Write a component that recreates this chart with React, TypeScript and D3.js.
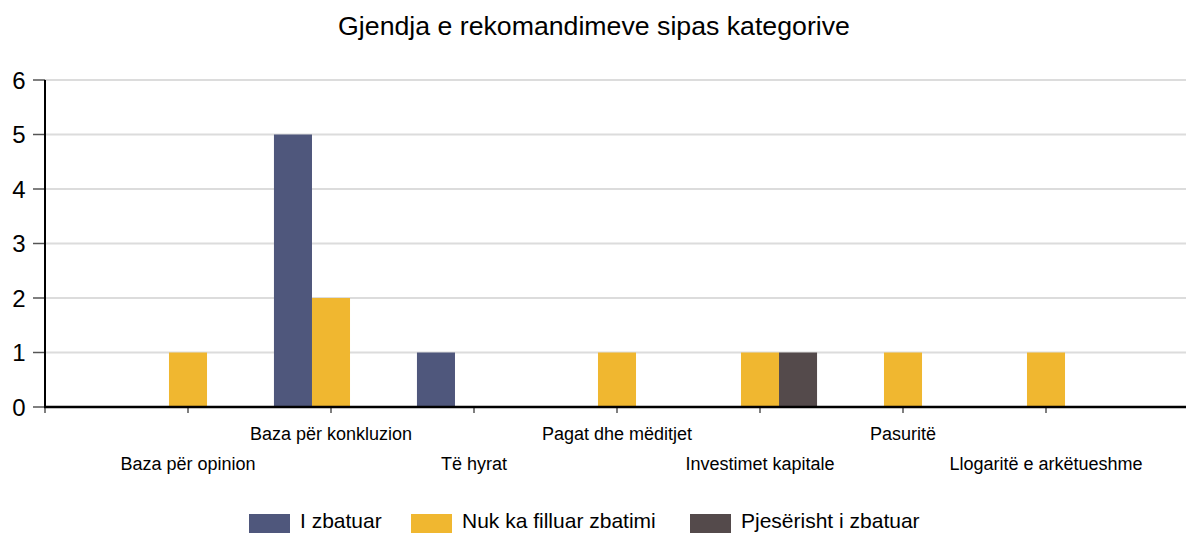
import React, { useEffect, useRef } from "react";
import * as d3 from "d3";

const categories = [
  "Baza për opinion",
  "Baza për konkluzion",
  "Të hyrat",
  "Pagat dhe mëditjet",
  "Investimet kapitale",
  "Pasuritë",
  "Llogaritë e arkëtueshme",
];
const seriesNames = ["I zbatuar", "Nuk ka filluar zbatimi", "Pjesërisht i zbatuar"];
const zbatuar = [0, 5, 1, 0, 0, 0, 0];
const paFilluar = [1, 2, 0, 1, 1, 1, 1];
const pjeserisht = [0, 0, 0, 0, 1, 0, 0];
const colors = ["#4f577c", "#f0b730", "#544a4b"];
const yTicks = [0, 1, 2, 3, 4, 5, 6];

const App = () => {
  const ref = useRef<SVGSVGElement>(null);

  useEffect(() => {
    const svg = d3.select(ref.current);
    svg.selectAll("*").remove();

    const width = 1186;
    const height = 533;
    const left = 45;
    const top = 80;
    const bottom = 407;
    const font = "Liberation Sans, Arial, sans-serif";

    const x0 = d3.scaleBand().domain(categories).range([left, 1189]).paddingInner(0).paddingOuter(0.5);
    const x1 = d3.scaleBand().domain(seriesNames).range([0, x0.bandwidth()]).paddingInner(0).paddingOuter(0.38);
    const y = d3.scaleLinear().domain([0, 6]).range([bottom, top]);

    svg.attr("width", width).attr("height", height).style("font-family", font);

    // titulli
    svg.append("text")
      .attr("x", 594).attr("y", 35)
      .attr("text-anchor", "middle")
      .attr("font-size", 26.7)
      .attr("fill", "#000")
      .text("Gjendja e rekomandimeve sipas kategorive");

    // vijat e rrjetit
    svg.selectAll("line.grid")
      .data(yTicks.filter((d) => d > 0))
      .enter().append("line")
      .attr("class", "grid")
      .attr("x1", left).attr("x2", width)
      .attr("y1", (d) => y(d)).attr("y2", (d) => y(d))
      .attr("stroke", "#dcdcdc").attr("stroke-width", 2);

    // shtyllat
    const rows = categories.map((c, i) => ({ c, vals: [zbatuar[i], paFilluar[i], pjeserisht[i]] }));
    const g = svg.selectAll("g.cat").data(rows).enter().append("g")
      .attr("transform", (d) => `translate(${x0(d.c)},0)`);
    g.selectAll("rect")
      .data((d) => d.vals.map((v, k) => ({ v, k })).filter((e) => e.v > 0))
      .enter().append("rect")
      .attr("x", (e) => x1(seriesNames[e.k]) as number)
      .attr("width", x1.bandwidth())
      .attr("y", (e) => y(e.v))
      .attr("height", (e) => bottom - y(e.v))
      .attr("fill", (e) => colors[e.k]);

    // boshti Y
    svg.selectAll("line.ytick").data(yTicks).enter().append("line")
      .attr("x1", 33).attr("x2", left)
      .attr("y1", (d) => y(d)).attr("y2", (d) => y(d))
      .attr("stroke", "#555").attr("stroke-width", 1.5);
    svg.selectAll("text.ylab").data(yTicks).enter().append("text")
      .attr("x", 19).attr("y", (d) => y(d) + 8.5)
      .attr("text-anchor", "middle")
      .attr("font-size", 24)
      .attr("fill", "#000")
      .text((d) => d);
    svg.append("line")
      .attr("x1", left).attr("x2", left).attr("y1", top).attr("y2", bottom + 1)
      .attr("stroke", "#000").attr("stroke-width", 2);

    // boshti X
    const xTicks = [left, ...categories.map((c) => (x0(c) as number) + x0.bandwidth() / 2)];
    svg.selectAll("line.xtick").data(xTicks).enter().append("line")
      .attr("x1", (d) => d).attr("x2", (d) => d)
      .attr("y1", bottom).attr("y2", bottom + 6)
      .attr("stroke", "#555").attr("stroke-width", 1.5);
    svg.append("line")
      .attr("x1", left - 1).attr("x2", width).attr("y1", bottom).attr("y2", bottom)
      .attr("stroke", "#000").attr("stroke-width", 2.5);
    svg.selectAll("text.xlab").data(categories).enter().append("text")
      .attr("x", (c) => (x0(c) as number) + x0.bandwidth() / 2)
      .attr("y", (c, i) => (i % 2 === 0 ? 470 : 440))
      .attr("text-anchor", "middle")
      .attr("font-size", 18)
      .attr("fill", "#000")
      .text((c) => c);

    // legjenda
    const legX = [249, 411, 690];
    seriesNames.forEach((s, k) => {
      svg.append("rect")
        .attr("x", legX[k]).attr("y", 514).attr("width", 41).attr("height", 19)
        .attr("fill", colors[k]);
      svg.append("text")
        .attr("x", legX[k] + 51).attr("y", 528)
        .attr("font-size", 21)
        .attr("fill", "#000")
        .text(s);
    });
  }, []);

  return <svg ref={ref} style={{ position: "absolute", left: 0, top: 0 }} />;
};

export default App;
